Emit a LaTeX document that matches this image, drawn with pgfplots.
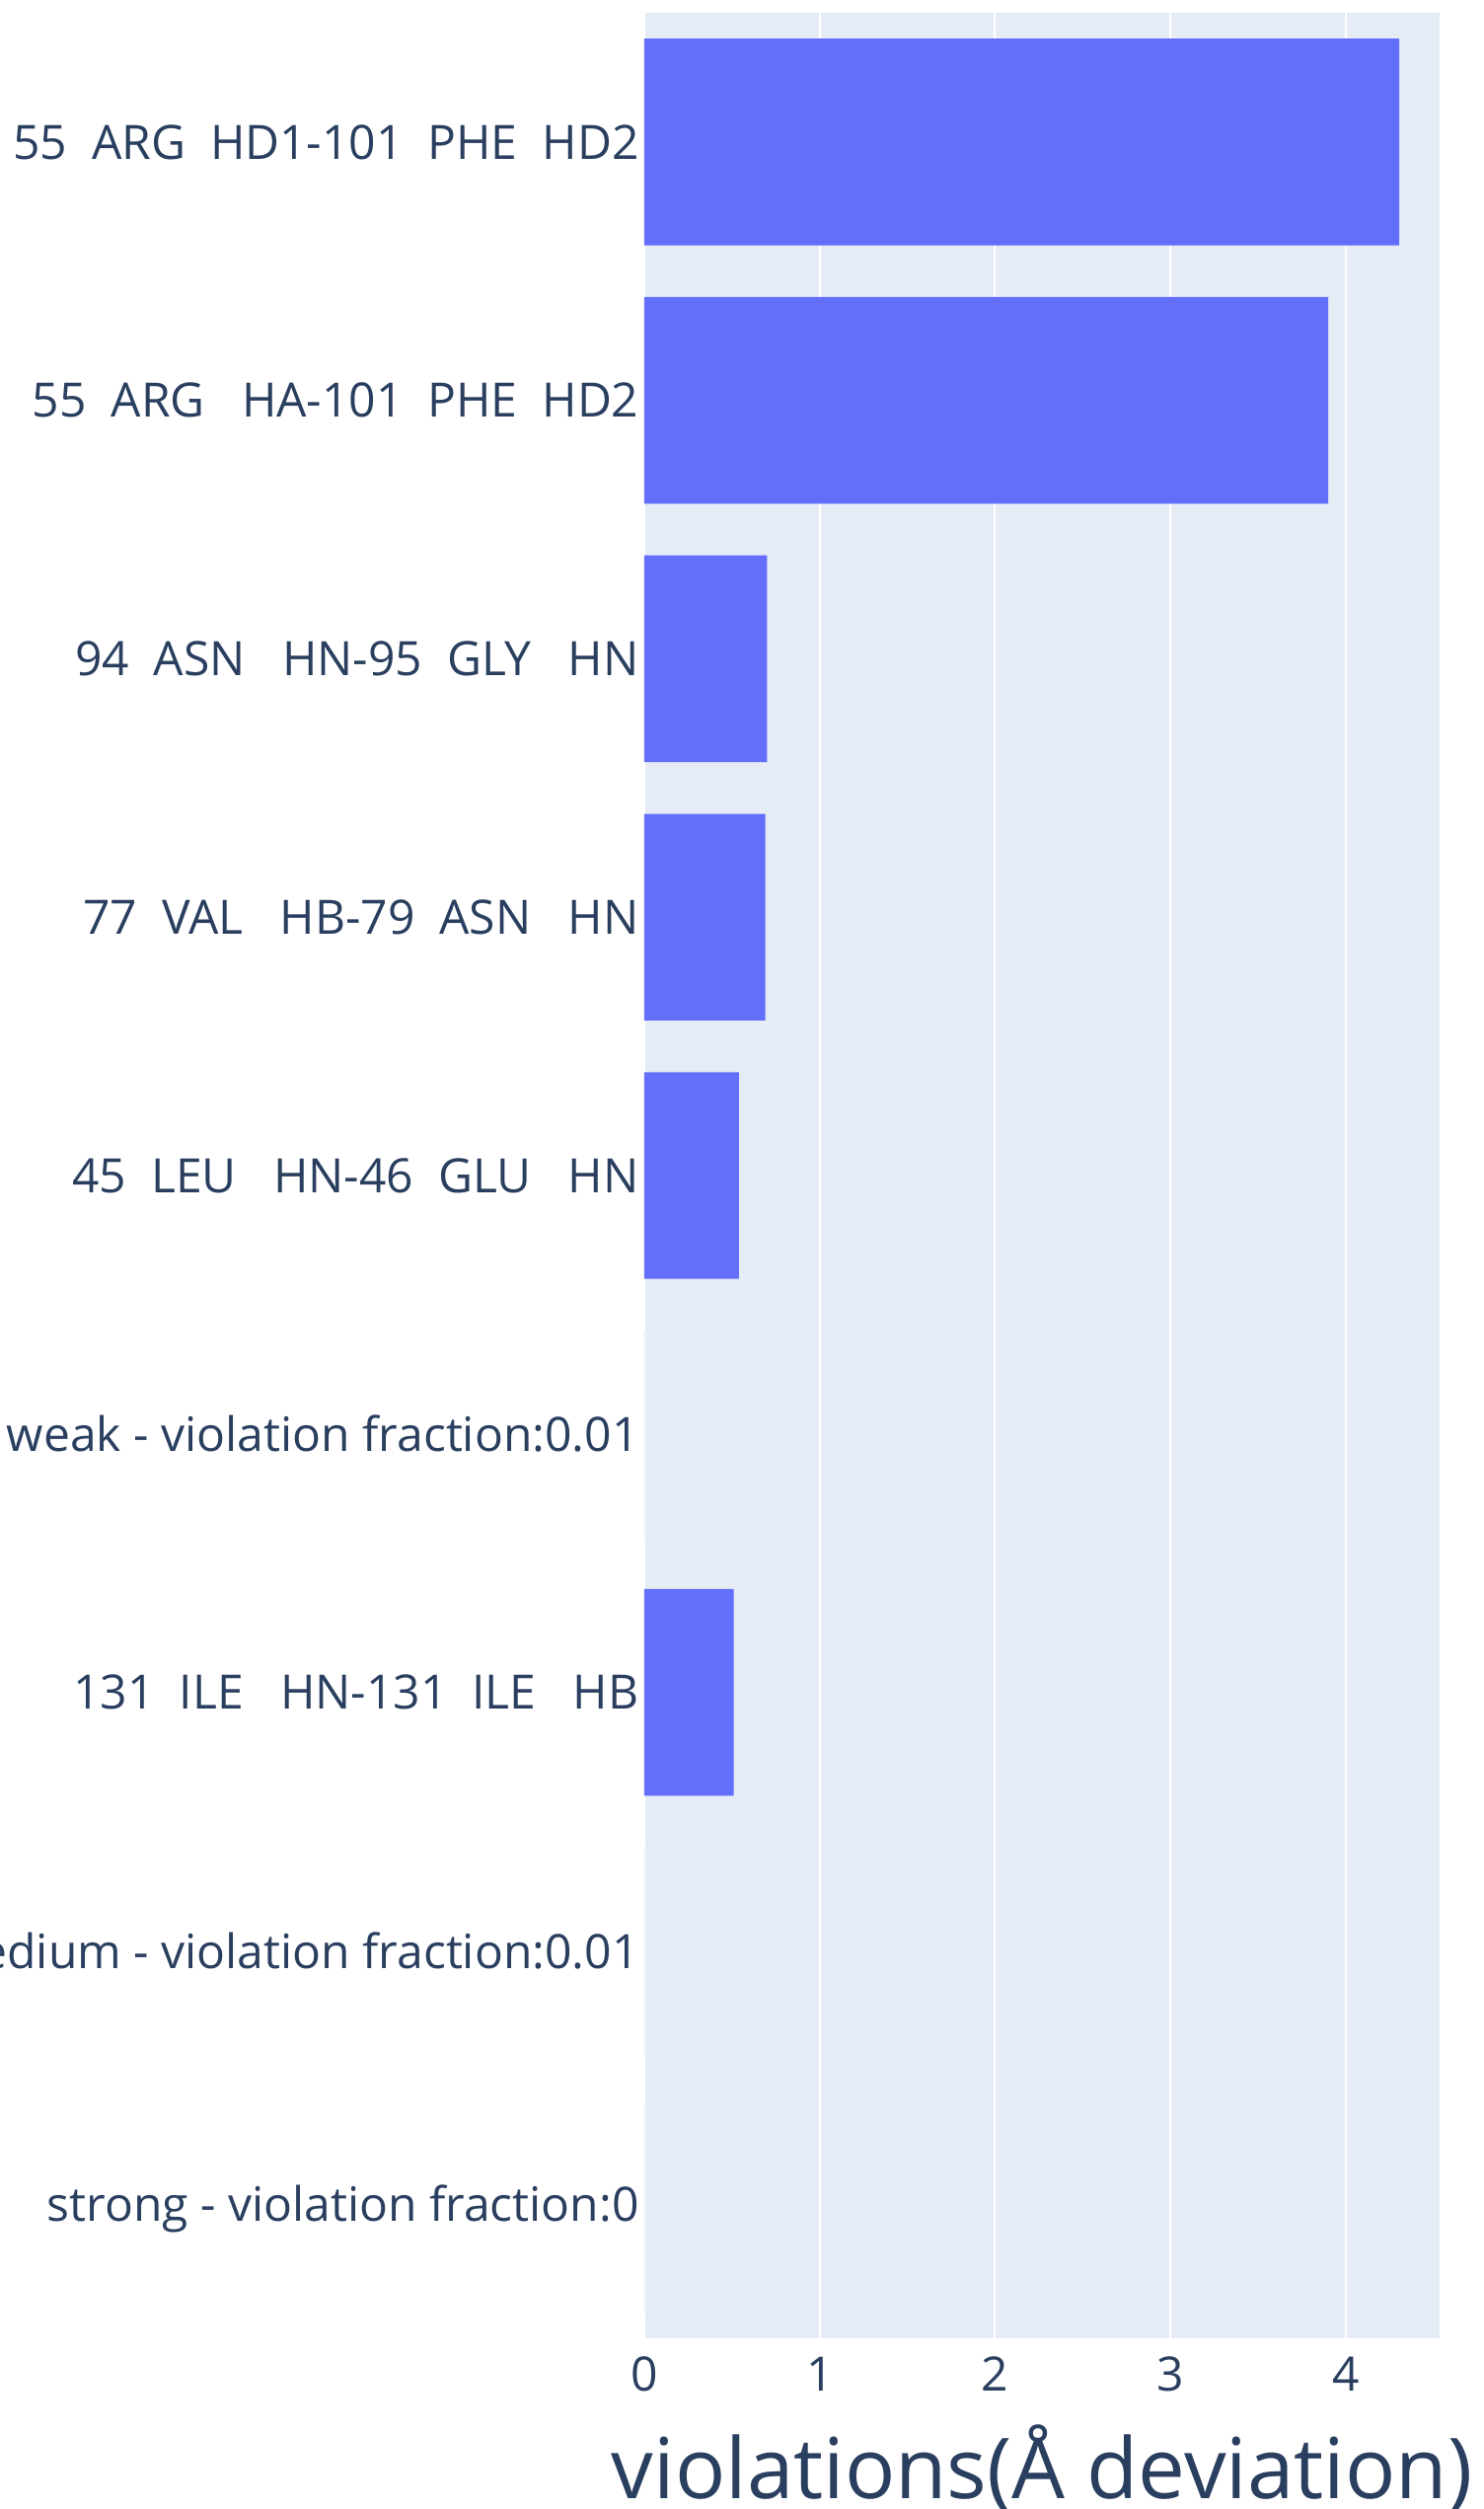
\documentclass[border=0pt]{standalone}
\usepackage{fontspec}
\setmainfont{Open Sans}
\usepackage{pgfplots}
\pgfplotsset{compat=1.18}
\usetikzlibrary{calc}
\definecolor{barblue}{HTML}{636EFA}
\definecolor{bgcol}{HTML}{E5ECF6}
\definecolor{txtcol}{HTML}{2A3F5F}
\begin{document}
\begin{tikzpicture}
\begin{axis}[
  name=ax,
  scale only axis,
  width=201.5pt, height=589pt,
  xbar, bar width=0.8,
  xmin=0, xmax=4.535,
  ymin=-0.5, ymax=8.5,
  axis background/.style={fill=bgcol},
  axis line style={draw=none},
  major tick length=0pt,
  xtick={0,1,2,3,4},
  ytick={0,1,2,3,4,5,6,7,8},
  yticklabels={
    strong - violation fraction:0,
    medium - violation fraction:0.01,
    131~~ILE~~~HN-131~~ILE~~~HB,
    weak - violation fraction:0.01,
    45~~LEU~~~HN-46~~GLU~~~HN,
    77~~VAL~~~HB-79~~ASN~~~HN,
    94~~ASN~~~HN-95~~GLY~~~HN,
    55~~ARG~~~HA-101~~PHE~~HD2,
    55~~ARG~~HD1-101~~PHE~~HD2},
  xmajorgrids,
  grid style={white, line width=0.5pt},
  /pgf/number format/assume math mode=true,
  tick label style={font=\fontsize{12}{14}\selectfont, text=txtcol},
  yticklabel style={inner sep=0pt, xshift=-1.2pt},
  xticklabel style={inner sep=0pt, anchor=north, yshift=-4.5pt},
  xlabel={violations(Å deviation)},
  xlabel style={font=\fontsize{21.3}{24}\selectfont, text=txtcol, at={(axis description cs:0.5,0)}, anchor=base, yshift=-40.5pt},
]
\addplot[fill=barblue, draw=none] coordinates {
  (0,0) (0,1) (0.51,2) (0,3) (0.54,4) (0.69,5) (0.70,6) (3.90,7) (4.305,8)
};
\end{axis}
\pgfresetboundingbox
\path[use as bounding box] ($(ax.south west)+(-163.25pt,-43.25pt)$) rectangle ($(ax.north east)+(11.25pt,3.25pt)$);
\end{tikzpicture}
\end{document}
